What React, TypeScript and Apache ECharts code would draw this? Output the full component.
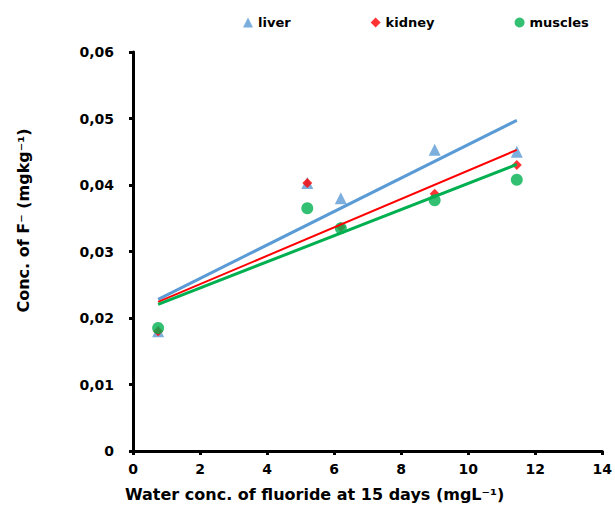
import React, { useEffect, useRef } from "react";
import * as echarts from "echarts";

const waterConc = [0.75, 5.2, 6.2, 9.0, 11.45];
const liver = [0.018, 0.0403, 0.038, 0.0453, 0.045];
const kidney = [0.018, 0.0403, 0.0337, 0.0387, 0.043];
const muscles = [0.0185, 0.0365, 0.0335, 0.0377, 0.0408];
const seriesNames = ["liver", "kidney", "muscles"];
const colors = ["#5B9BD5", "#FF0000", "#00B050"];

function trend(xs: number[], ys: number[]) {
  const n = xs.length;
  const mx = xs.reduce((a, b) => a + b, 0) / n;
  const my = ys.reduce((a, b) => a + b, 0) / n;
  let sxy = 0, sxx = 0;
  for (let i = 0; i < n; i++) {
    sxy += (xs[i] - mx) * (ys[i] - my);
    sxx += (xs[i] - mx) ** 2;
  }
  const b = sxy / sxx;
  const a = my - b * mx;
  const x0 = Math.min(...xs), x1 = Math.max(...xs);
  return [[x0, a + b * x0], [x1, a + b * x1]];
}

export default function App() {
  const ref = useRef<HTMLDivElement>(null);
  useEffect(() => {
    const chart = echarts.init(ref.current!, null, { renderer: "svg" });
    const font = "DejaVu Sans";
    const dataSets = [liver, kidney, muscles];
    const symbols = ["triangle", "diamond", "circle"];
    const sizes = [12, 10, 12];
    const lineWidths = [3, 2, 3];
    const scatterSeries = dataSets.map((d, i) => ({
      name: seriesNames[i],
      type: "scatter",
      symbol: symbols[i],
      symbolSize: sizes[i],
      itemStyle: { color: colors[i] },
      data: waterConc.map((x, j) => [x, d[j]]),
      z: 2,
    }));
    const lineSeries = dataSets.map((d, i) => ({
      name: seriesNames[i] + " trend",
      type: "line",
      symbol: "none",
      lineStyle: { color: colors[i], width: lineWidths[i] },
      data: trend(waterConc, d),
      z: 3,
    }));
    chart.setOption({
      animation: false,
      textStyle: { fontFamily: font },
      legend: {
        data: seriesNames.map((n, i) => ({ name: n, icon: symbols[i] })),
        top: 16,
        left: 243,
        padding: 0,
        itemWidth: 10,
        itemHeight: 10,
        itemGap: 80,
        textStyle: { fontFamily: font, fontWeight: "bold", fontSize: 13, color: "#000" },
      },
      grid: { left: 133, right: 10, top: 52, bottom: 63, containLabel: false },
      xAxis: {
        type: "value",
        min: 0,
        max: 14,
        interval: 2,
        splitLine: { show: false },
        axisLine: { lineStyle: { color: "#000", width: 3 } },
        axisTick: { show: true, length: 4, lineStyle: { color: "#000", width: 3 } },
        axisLabel: { color: "#000", fontWeight: "bold", fontSize: 14, fontFamily: font, margin: 11 },
        name: "Water conc. of fluoride at 15 days (mgL⁻¹)",
        nameLocation: "middle",
        nameGap: 35,
        nameTextStyle: {
          color: "#000",
          fontWeight: "bold",
          fontSize: 16,
          fontFamily: font,
          padding: [0, 106, 0, 0],
        },
      },
      yAxis: {
        type: "value",
        min: 0,
        max: 0.06,
        interval: 0.01,
        splitLine: { show: false },
        axisLine: { show: true, lineStyle: { color: "#000", width: 3 } },
        axisTick: { show: true, length: 4, lineStyle: { color: "#000", width: 3 } },
        axisLabel: {
          color: "#000",
          fontWeight: "bold",
          fontSize: 14,
          fontFamily: font,
          margin: 19,
          formatter: (v: number) => (v === 0 ? "0" : v.toFixed(2).replace(".", ",")),
        },
        name: "Conc. of F⁻ (mgkg⁻¹)",
        nameLocation: "middle",
        nameGap: 102,
        nameTextStyle: {
          color: "#000",
          fontWeight: "bold",
          fontSize: 16,
          fontFamily: font,
          padding: [0, 0, 0, 62],
        },
      },
      series: [...scatterSeries, ...lineSeries],
    });
    return () => chart.dispose();
  }, []);
  return <div ref={ref} style={{ width: 615, height: 514, position: "absolute", left: 0, top: 0 }} />;
}
